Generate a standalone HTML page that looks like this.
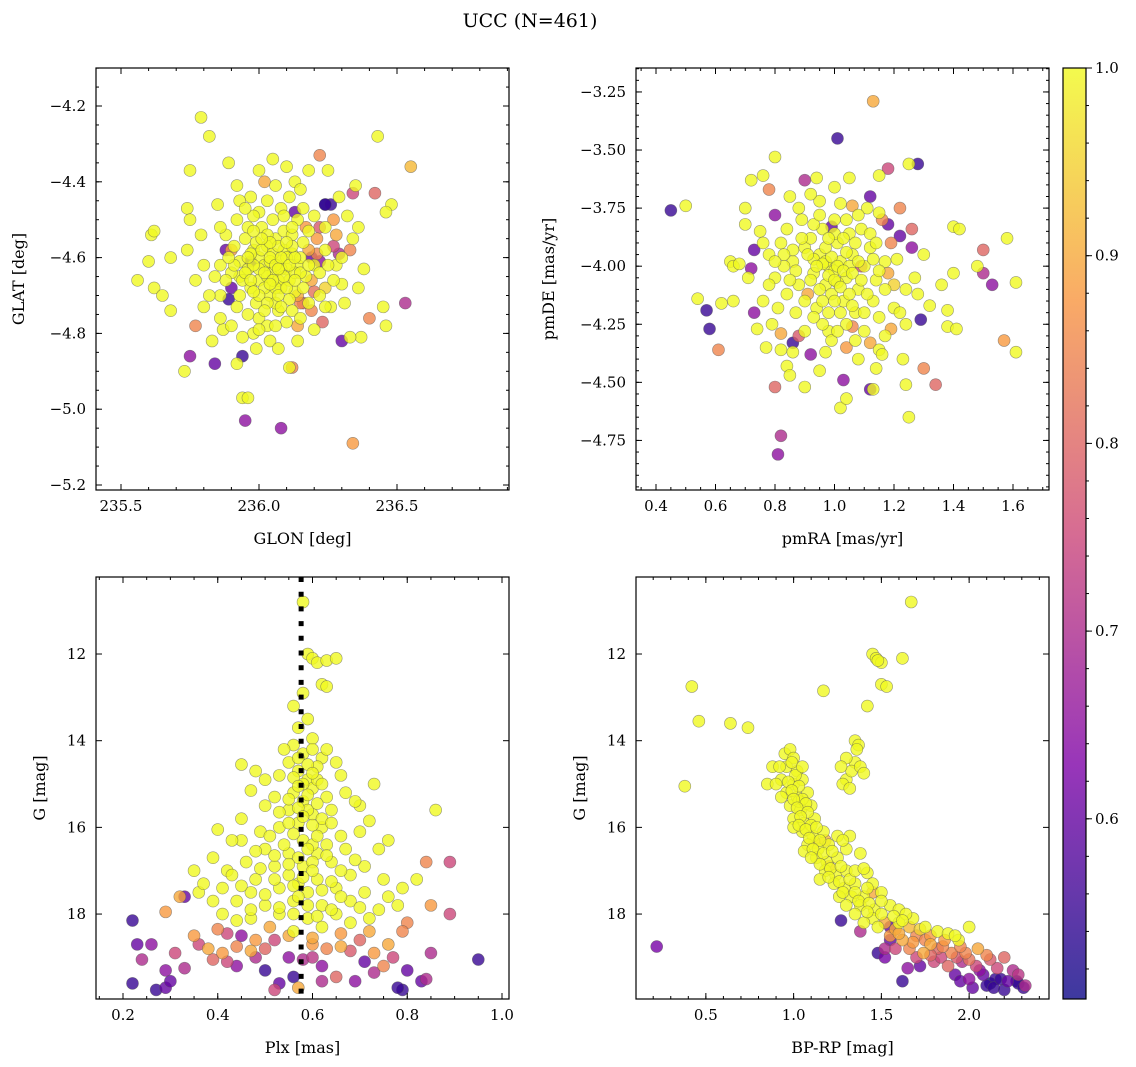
<!DOCTYPE html>
<html><head><meta charset="utf-8"><style>
body{margin:0;background:#fff;}
svg{display:block;font-family:"DejaVu Serif","Liberation Serif",serif;}
</style></head><body>
<svg id="fig" width="1136" height="1067" viewBox="0 0 1136 1067" xmlns="http://www.w3.org/2000/svg">
<text x="530" y="27" font-size="19" text-anchor="middle">UCC (N=461)</text>
</svg>
<script>
// ---------- data ----------
const p1Points = [
[235.79,-4.23,1],[235.82,-4.28,1],[235.89,-4.35,1],[235.75,-4.37,1],[235.56,-4.66,1],[235.61,-4.54,1],[235.62,-4.53,1],[235.6,-4.61,1],[235.62,-4.68,1],[235.65,-4.70,1],[235.68,-4.74,1],[235.68,-4.60,1],[235.74,-4.47,1],[235.75,-4.50,1],[235.74,-4.58,1],[235.73,-4.90,1],[235.77,-4.78,0.85],[235.75,-4.86,0.65],[235.84,-4.88,0.6],[235.88,-4.58,0.6],[235.89,-4.71,0.55],[235.92,-4.88,1],[235.94,-4.86,0.55],[235.94,-4.97,1],[235.96,-4.97,1],[235.95,-5.03,0.65],[236.08,-5.05,0.65],[236.34,-5.09,0.88],[236.12,-4.89,0.85],[236.11,-4.89,1],[236.55,-4.36,0.92],[236.53,-4.72,0.7],[236.48,-4.46,1],[236.43,-4.28,1],[236.42,-4.43,0.8],[236.46,-4.48,1],[236.46,-4.78,1],[236.45,-4.73,1],[236.4,-4.76,0.85],[236.38,-4.63,1],[236.37,-4.81,1],[236.3,-4.82,0.6],[236.33,-4.81,1],[236.35,-4.41,1],[236.34,-4.43,0.75],[236.22,-4.33,0.85],[236.26,-4.46,0.55],[236.27,-4.57,0.75],[236.22,-4.52,0.78],[236.18,-4.58,0.9],[236.2,-4.69,0.82],[236.19,-4.60,0.6],[236.15,-4.72,0.85],[236.25,-4.37,1],[236.18,-4.37,1],[236.13,-4.40,1],[236.02,-4.40,0.9],[236.05,-4.34,1],[236.1,-4.36,1],[236.0,-4.37,1],[235.85,-4.46,1],[235.86,-4.62,1],[235.8,-4.62,1],[235.8,-4.73,1],[235.83,-4.82,1],[235.87,-4.79,1],[235.9,-4.68,0.6],[235.93,-4.65,1],[236.28,-4.62,1],[236.3,-4.67,1],[236.34,-4.55,1],[236.32,-4.49,1],[236.26,-4.73,1],[236.23,-4.77,0.8],[236.14,-4.78,0.9],[236.0,-4.76,1],[235.98,-4.80,1],[236.04,-4.82,1],[236.07,-4.74,1],[235.96,-4.52,1],[235.97,-4.44,1],[236.08,-4.47,1],
[235.95,-4.55,1],[235.98,-4.58,1],[236.0,-4.6,1],[236.02,-4.62,1],[236.05,-4.64,1],[236.07,-4.61,1],[236.1,-4.63,1],[236.12,-4.59,1],[236.03,-4.57,1],[236.06,-4.55,1],[236.09,-4.53,1],[236.0,-4.66,1],[235.97,-4.68,1],[236.04,-4.7,1],[236.08,-4.68,1],[236.11,-4.66,1],[236.14,-4.62,1],[236.16,-4.56,1],[235.93,-4.61,1],[235.91,-4.57,1],[236.01,-4.52,1],[236.13,-4.69,1],[236.06,-4.72,1],[235.99,-4.72,1],[236.17,-4.65,1],[236.03,-4.65,1],[236.05,-4.59,1],[235.96,-4.63,1],[236.09,-4.58,1],[236.12,-4.54,1],[236.02,-4.68,1],[236.07,-4.66,1],[236.15,-4.6,1],[235.94,-4.66,1],[236.0,-4.63,1],[236.04,-4.61,1],[236.08,-4.63,1],[236.1,-4.6,1],[235.98,-4.62,1],[236.06,-4.68,1],[236.13,-4.64,1],[236.2,-4.62,1],[235.9,-4.64,1],[236.03,-4.54,1],[235.97,-4.59,1],[236.11,-4.71,1],[236.19,-4.66,0.9],[236.14,-4.5,1],[235.92,-4.5,1],[236.0,-4.48,1],[236.17,-4.52,0.88],[236.24,-4.58,1],[236.22,-4.64,1],[235.88,-4.66,1],[235.86,-4.7,1],[236.28,-4.54,0.9],[236.24,-4.68,0.95],[236.3,-4.6,1],[236.18,-4.72,1],[235.92,-4.73,1],[236.1,-4.77,1],[236.03,-4.78,1],[236.16,-4.47,1],[235.93,-4.45,1],[236.24,-4.46,0.55],[236.36,-4.68,1]
];
const p1Core = [
[235.96,-4.6,1],[235.99,-4.56,1],[236.01,-4.58,1],[236.04,-4.6,1],[236.06,-4.62,1],[236.08,-4.6,1],[236.11,-4.62,1],[236.13,-4.6,1],[236.02,-4.64,1],[236.05,-4.66,1],[236.09,-4.65,1],[236.0,-4.7,1],[236.03,-4.72,1],[236.07,-4.7,1],[236.1,-4.68,1],[235.95,-4.64,1],[235.97,-4.66,1],[236.12,-4.57,1],[236.07,-4.57,1],[236.04,-4.56,1],[236.01,-4.55,1],[235.98,-4.53,1],[236.15,-4.64,1],[236.16,-4.68,1],[236.14,-4.7,0.9],[235.93,-4.7,1],[235.91,-4.62,1],[235.89,-4.6,1],[236.18,-4.62,1],[236.21,-4.59,0.85],[236.05,-4.5,1],[236.09,-4.49,1],[236.12,-4.52,1],[235.98,-4.49,1],[236.08,-4.73,1],[236.12,-4.74,1],[235.96,-4.75,1],[236.0,-4.79,1],[236.06,-4.78,1],[236.15,-4.76,1],[236.19,-4.74,0.85],[236.22,-4.7,1],[236.25,-4.62,1],[236.27,-4.66,1],[235.88,-4.54,1],[235.84,-4.65,1],[235.82,-4.7,1],[235.86,-4.76,1],[235.9,-4.78,1],[235.94,-4.81,1],[236.18,-4.53,1],[236.21,-4.55,0.88],[236.2,-4.49,1],[235.95,-4.47,1],[236.03,-4.45,1],[236.11,-4.44,1],[236.06,-4.41,1],[236.15,-4.42,1],[235.92,-4.41,1],[236.24,-4.52,1],[236.27,-4.5,0.88],[236.24,-4.73,1],[236.2,-4.79,1],[235.99,-4.84,1],[236.07,-4.84,1],[236.14,-4.82,1],[235.79,-4.54,1],[235.77,-4.66,1],[236.31,-4.72,1],[236.33,-4.58,0.85],[236.29,-4.44,1],[236.36,-4.52,1],[235.86,-4.52,1],[236.16,-4.72,0.8],[236.02,-4.74,1],[235.98,-4.69,1],[236.1,-4.56,1],[236.13,-4.66,1],[236.04,-4.67,1],[236.07,-4.63,1],[235.97,-4.61,0.55],[236.13,-4.48,0.6],[236.22,-4.61,0.65],[236.29,-4.59,0.7],[235.9,-4.58,0.88],[236.24,-4.46,0.5]
];
const p2Points = [
[1.13,-3.29,0.9],[1.01,-3.45,0.55],[0.45,-3.76,0.55],[0.5,-3.74,1],[0.54,-4.14,1],[0.57,-4.19,0.55],[0.58,-4.27,0.55],[0.61,-4.36,0.85],[0.62,-4.16,1],[0.66,-4.15,1],[0.65,-3.98,1],[0.66,-4.0,1],[0.7,-3.75,1],[0.72,-3.63,1],[0.72,-4.01,0.65],[0.73,-3.93,0.6],[0.73,-4.2,0.65],[0.76,-3.61,1],[0.78,-3.67,0.85],[0.8,-3.53,1],[0.8,-3.78,0.65],[0.8,-4.52,0.8],[0.82,-4.73,0.7],[0.81,-4.81,0.65],[0.84,-4.43,1],[0.85,-4.47,1],[0.82,-4.36,1],[0.86,-4.33,0.55],[0.88,-4.30,0.78],[0.9,-3.63,0.7],[0.9,-4.52,1],[0.92,-4.38,0.65],[0.95,-4.45,1],[0.98,-4.28,1],[1.02,-4.61,1],[1.03,-4.49,0.65],[1.04,-4.57,1],[1.04,-4.35,0.88],[1.12,-4.53,0.6],[1.13,-4.53,1],[1.12,-3.7,0.6],[1.15,-3.61,1],[1.18,-3.58,0.75],[1.22,-3.87,0.6],[1.25,-3.56,1],[1.28,-3.56,0.55],[1.26,-3.84,0.8],[1.29,-4.23,0.55],[1.3,-4.44,0.85],[1.25,-4.65,1],[1.24,-4.51,1],[1.24,-4.25,1],[1.23,-4.40,1],[1.28,-4.12,1],[1.34,-4.51,0.8],[1.36,-4.08,1],[1.38,-4.19,1],[1.38,-4.26,1],[1.4,-3.83,1],[1.42,-3.84,1],[1.41,-4.27,1],[1.4,-4.03,1],[1.48,-4.0,1],[1.5,-3.93,0.8],[1.5,-4.03,0.7],[1.53,-4.08,0.65],[1.58,-3.88,1],[1.57,-4.32,0.88],[1.61,-4.07,1],[1.61,-4.37,1],[1.15,-4.36,1],[1.17,-4.3,1],[1.16,-4.38,1],[1.2,-4.18,1],[1.18,-3.82,0.6],[1.16,-3.8,0.85],
[0.95,-3.95,1],[0.98,-4.0,1],[1.0,-4.02,1],[1.02,-3.98,1],[1.04,-4.05,1],[0.97,-4.08,1],[1.06,-3.95,1],[0.93,-4.03,1],[1.01,-3.9,1],[0.99,-4.12,1],[1.08,-4.1,1],[0.9,-3.92,1],[1.05,-3.86,1],[0.96,-3.84,1],[1.1,-4.0,1],[0.88,-4.08,1],[1.03,-4.15,1],[0.94,-4.18,1],[1.12,-3.92,1],[0.86,-3.98,1],[1.0,-3.8,1],[1.07,-4.2,1],[0.92,-3.88,1],[1.14,-4.06,1],[0.84,-4.12,1],[0.97,-3.98,1],[1.01,-4.07,1],[1.05,-4.0,1],[0.93,-3.97,1],[1.09,-3.84,1],[0.89,-3.8,1],[1.13,-4.15,1],[0.82,-3.9,1],[0.8,-4.05,1],[1.17,-3.98,1],[0.96,-4.25,1],[1.04,-4.25,1],[0.87,-4.2,1],[1.2,-4.08,0.95],[0.78,-3.95,1],[1.11,-3.75,1],[0.95,-3.72,1],[0.85,-3.7,1],[1.0,-3.66,1],[1.06,-3.74,0.9],[0.76,-4.15,1],[0.79,-4.25,1],[1.22,-4.2,1],[0.91,-4.12,0.9],[1.07,-4.32,1],[0.99,-4.32,1],[1.19,-3.9,0.85],[0.83,-4.0,1],[0.75,-3.85,1],[1.15,-4.22,1],[0.68,-3.99,1],[0.74,-4.27,1],[1.27,-4.05,1]
];
const p2Core = [
[0.96,-3.99,1],[0.99,-3.96,1],[1.01,-4.0,1],[1.03,-4.02,1],[0.98,-4.04,1],[1.0,-4.06,1],[1.02,-4.09,1],[0.95,-4.1,1],[0.97,-3.92,1],[1.04,-3.94,1],[1.06,-4.03,1],[1.08,-3.98,1],[0.94,-4.0,1],[0.92,-4.06,1],[1.05,-4.12,1],[1.09,-4.06,1],[0.91,-3.95,1],[1.0,-3.86,1],[1.03,-3.88,1],[0.98,-3.88,1],[1.07,-3.9,1],[0.9,-4.15,1],[1.11,-4.12,1],[1.0,-4.15,1],[0.96,-4.15,1],[1.06,-4.17,1],[0.89,-3.88,1],[1.13,-3.97,1],[0.87,-4.02,1],[1.15,-4.02,1],[1.02,-4.2,1],[0.98,-4.2,1],[0.93,-4.22,1],[1.1,-4.2,1],[1.12,-3.86,1],[0.93,-3.82,1],[1.04,-3.8,1],[0.86,-3.93,1],[0.85,-4.06,1],[1.17,-4.1,1],[1.18,-4.03,0.9],[0.83,-3.95,1],[0.8,-3.98,1],[1.14,-3.9,1],[1.01,-4.28,1],[1.1,-4.28,1],[0.9,-4.28,1],[0.95,-3.78,1],[1.08,-3.78,1],[0.88,-3.75,1],[1.02,-3.73,1],[0.81,-4.18,1],[0.78,-4.08,1],[1.21,-3.97,1],[1.24,-4.1,1],[0.97,-4.37,1],[1.08,-4.4,1],[1.12,-4.33,0.9],[0.92,-3.69,1],[1.15,-3.77,1],[0.84,-3.84,1],[0.76,-3.9,1],[0.71,-4.05,1],[0.77,-4.35,1],[1.3,-3.95,1],[1.32,-4.17,1],[1.19,-4.27,0.9],[0.94,-3.62,1],[1.05,-3.62,1],[1.09,-4.0,0.75],[0.99,-3.83,0.6],[1.06,-4.26,0.85],[0.82,-4.29,0.9],[1.22,-3.75,0.85],[0.86,-4.37,1],[0.7,-3.82,1],[1.26,-3.92,0.65],[1.14,-4.44,1]
];
const p3Points = [
[0.58,10.8,1],[0.59,12.0,1],[0.6,12.1,1],[0.61,12.2,1],[0.63,12.15,1],[0.65,12.1,1],[0.62,12.7,1],[0.63,12.75,1],[0.58,12.9,1],[0.56,13.2,1],[0.57,13.7,1],[0.59,13.5,1],[0.6,13.95,1],[0.56,14.1,1],[0.58,14.3,1],[0.6,14.2,1],[0.55,14.5,1],[0.62,14.4,1],[0.57,14.7,1],[0.59,14.9,1],[0.61,14.6,1],[0.65,14.5,1],[0.45,14.55,1],[0.48,14.7,1],[0.53,14.8,1],[0.6,15.1,1],[0.56,15.2,1],[0.58,15.4,1],[0.52,15.3,1],[0.63,15.3,1],[0.67,15.2,1],[0.5,15.5,1],[0.55,15.6,1],[0.6,15.7,1],[0.64,15.6,1],[0.7,15.5,1],[0.73,15.0,1],[0.86,15.6,1],[0.57,15.9,1],[0.53,16.0,1],[0.49,16.1,1],[0.62,16.0,1],[0.66,16.2,1],[0.7,16.1,1],[0.45,16.3,1],[0.58,16.3,1],[0.43,16.3,1],[0.39,16.7,1],[0.5,16.5,1],[0.55,16.6,1],[0.61,16.6,1],[0.67,16.5,1],[0.74,16.5,1],[0.46,16.8,1],[0.52,16.9,1],[0.58,16.9,1],[0.64,16.8,1],[0.71,16.9,1],[0.84,16.8,0.85],[0.89,16.8,0.75],[0.42,17.0,1],[0.48,17.2,1],[0.55,17.1,1],[0.61,17.2,1],[0.68,17.1,1],[0.75,17.2,1],[0.32,17.6,0.9],[0.36,17.5,1],[0.41,17.4,1],[0.47,17.5,1],[0.53,17.4,1],[0.59,17.5,1],[0.65,17.4,1],[0.71,17.5,1],[0.79,17.4,1],[0.44,17.7,1],[0.5,17.8,1],[0.56,17.7,1],[0.62,17.8,1],[0.68,17.7,1],[0.76,17.6,1],[0.85,17.8,0.88],[0.29,17.95,0.88],[0.33,17.6,0.6],[0.41,18.0,1],[0.47,18.1,1],[0.53,18.0,1],[0.59,18.1,1],[0.65,18.0,1],[0.72,18.1,1],[0.8,18.2,0.85],[0.89,18.0,0.75],[0.22,18.15,0.55],[0.35,18.5,0.88],[0.38,18.8,0.9],[0.41,18.9,0.88],[0.44,18.75,0.85],[0.47,18.85,0.9],[0.5,18.8,0.8],[0.52,18.6,0.75],[0.55,18.5,0.9],[0.6,18.7,0.88],[0.63,18.8,0.85],[0.66,18.75,0.9],[0.7,18.6,0.8],[0.73,18.9,0.88],[0.76,18.7,0.9],[0.79,18.4,0.85],[0.23,18.7,0.6],[0.26,18.7,0.65],[0.24,19.05,0.7],[0.29,19.3,0.65],[0.33,19.25,0.7],[0.39,19.05,0.8],[0.42,19.1,0.75],[0.45,18.5,0.65],[0.5,19.3,0.55],[0.53,19.6,0.6],[0.56,19.45,0.55],[0.58,19.05,0.7],[0.6,19.0,0.72],[0.62,19.2,0.65],[0.65,19.45,0.8],[0.68,18.85,0.78],[0.71,19.1,0.6],[0.73,19.35,0.7],[0.75,19.2,0.85],[0.77,19.0,0.75],[0.79,19.75,0.55],[0.8,19.3,0.6],[0.83,19.55,0.6],[0.84,19.5,0.7],[0.78,19.7,0.55],[0.95,19.05,0.55],[0.22,19.6,0.55],[0.27,19.75,0.55],[0.29,19.7,0.6],[0.3,19.55,0.6],[0.52,19.75,0.75],[0.57,19.7,0.9],[0.42,18.45,0.75],[0.48,19.0,0.7],[0.55,19.0,0.65],[0.58,15.0,1],[0.6,16.4,1],[0.57,17.3,1],[0.62,18.3,1],[0.56,18.4,1],[0.59,15.6,1],[0.61,14.9,1]
];
const p3Core = [
[0.57,14.4,1],[0.59,14.55,1],[0.56,14.85,1],[0.6,14.75,1],[0.62,15.0,1],[0.57,15.05,1],[0.55,15.35,1],[0.59,15.25,1],[0.61,15.45,1],[0.57,15.55,1],[0.53,15.65,1],[0.62,15.8,1],[0.58,15.75,1],[0.55,15.9,1],[0.6,15.95,1],[0.64,15.9,1],[0.51,16.2,1],[0.56,16.15,1],[0.61,16.2,1],[0.63,16.4,1],[0.54,16.4,1],[0.59,16.5,1],[0.52,16.65,1],[0.57,16.7,1],[0.63,16.65,1],[0.6,16.8,1],[0.55,16.85,1],[0.49,16.95,1],[0.66,17.0,1],[0.6,17.0,1],[0.58,17.15,1],[0.52,17.2,1],[0.64,17.25,1],[0.45,17.35,1],[0.56,17.35,1],[0.62,17.45,1],[0.5,17.55,1],[0.57,17.6,1],[0.66,17.6,1],[0.59,17.8,1],[0.53,17.85,1],[0.47,17.9,1],[0.64,17.9,1],[0.7,17.85,1],[0.56,18.0,1],[0.61,18.05,1],[0.44,18.15,1],[0.68,18.2,1],[0.74,17.9,1],[0.39,17.7,1],[0.37,17.3,1],[0.43,17.1,1],[0.78,17.8,1],[0.54,14.2,1],[0.63,14.2,1],[0.5,14.9,1],[0.66,14.8,1],[0.47,15.15,1],[0.69,15.4,1],[0.45,15.8,1],[0.72,15.85,1],[0.4,16.05,1],[0.76,16.3,1],[0.35,17.0,1],[0.82,17.2,1],[0.48,16.55,1],[0.69,16.75,1],[0.6,18.55,0.9],[0.51,18.3,0.9],[0.66,18.45,0.88],[0.72,18.4,0.9],[0.4,18.35,0.85],[0.36,18.7,0.75],[0.44,19.2,0.65],[0.62,19.55,0.7],[0.69,19.55,0.65],[0.48,18.6,0.88],[0.85,18.9,0.7],[0.31,18.9,0.75]
];
const p4Points = [
[1.67,10.8,1],[1.45,12.0,1],[1.47,12.1,1],[1.5,12.2,1],[1.62,12.1,1],[1.48,12.15,1],[1.5,12.7,1],[1.53,12.75,1],[1.17,12.85,1],[0.42,12.75,1],[0.46,13.55,1],[0.64,13.6,1],[0.74,13.7,1],[0.38,15.05,1],[0.22,18.75,0.62],[1.42,13.2,1],[1.35,14.0,1],[1.37,14.1,1],[1.35,14.5,1],[1.3,14.4,1],[1.3,14.9,1],[1.33,14.7,1],[1.38,14.6,1],[1.27,14.6,1],[1.28,15.0,1],[1.32,15.1,1],[0.95,14.3,1],[0.98,14.2,1],[1.0,14.4,1],[0.96,14.6,1],[1.02,14.7,1],[0.88,14.6,1],[0.85,15.0,1],[0.93,14.9,1],[1.0,15.0,1],[1.05,14.9,1],[0.96,15.2,1],[1.02,15.3,1],[1.08,15.2,1],[0.98,15.5,1],[1.04,15.6,1],[1.1,15.5,1],[1.0,15.8,1],[1.06,15.9,1],[1.12,15.8,1],[1.05,16.1,1],[1.11,16.2,1],[1.17,16.1,1],[1.08,16.4,1],[1.14,16.5,1],[1.2,16.4,1],[1.13,16.7,1],[1.19,16.8,1],[1.25,16.7,1],[1.3,16.5,1],[1.18,17.0,1],[1.24,17.1,1],[1.3,17.0,1],[1.42,17.05,1],[1.45,17.3,1],[1.23,17.3,1],[1.29,17.4,1],[1.35,17.3,1],[1.4,17.6,1],[1.5,17.5,1],[1.33,17.6,1],[1.38,17.8,1],[1.46,17.9,1],[1.55,17.8,1],[1.6,17.9,1],[1.45,18.1,1],[1.52,18.2,0.9],[1.6,18.2,1],[1.68,18.1,1],[1.75,18.3,1],[1.82,18.4,1],[2.0,18.3,1],[1.55,18.5,0.88],[1.62,18.6,0.9],[1.7,18.5,0.85],[1.78,18.7,0.9],[1.86,18.6,0.88],[1.94,18.6,1],[1.66,18.8,0.85],[1.74,18.9,0.9],[1.82,18.8,0.8],[1.9,18.9,0.85],[1.98,18.9,0.85],[2.05,18.8,0.9],[1.8,19.1,0.75],[1.88,19.2,0.8],[1.96,19.1,0.7],[2.04,19.2,0.75],[2.12,19.05,0.78],[2.2,19.0,0.8],[1.92,19.4,0.6],[2.0,19.5,0.65],[2.08,19.4,0.6],[2.15,19.5,0.55],[2.22,19.55,0.6],[2.28,19.6,0.55],[2.32,19.65,0.7],[2.25,19.3,0.7],[2.1,19.65,0.55],[2.14,19.7,0.55],[2.18,19.5,0.55],[1.62,19.55,0.55],[1.65,19.25,0.65],[1.72,19.2,0.6],[1.52,18.8,0.7],[1.55,18.6,0.6],[1.27,18.15,0.55],[1.38,18.4,0.7],[1.48,18.9,0.55],[2.02,19.7,0.6],[1.7,19.0,0.75],[1.12,16.35,0.92],[1.2,16.9,0.9],[1.0,16.0,1],[1.03,15.4,1],[1.06,16.55,1],[1.15,17.2,1],[1.26,17.6,1],[1.35,18.0,1],[1.4,18.2,1],[1.3,17.8,1]
];
const p4Core = [
[0.99,14.5,1],[1.01,14.8,1],[0.97,14.95,1],[1.03,15.05,1],[0.99,15.15,1],[1.05,15.35,1],[1.0,15.35,1],[1.07,15.45,1],[1.02,15.55,1],[1.08,15.65,1],[1.04,15.75,1],[1.1,15.95,1],[1.03,15.95,1],[1.07,16.05,1],[1.13,16.0,1],[1.09,16.25,1],[1.15,16.3,1],[1.11,16.5,1],[1.17,16.6,1],[1.22,16.55,1],[1.15,16.85,1],[1.21,16.95,1],[1.27,16.9,1],[1.2,17.15,1],[1.26,17.25,1],[1.32,17.2,1],[1.28,17.5,1],[1.35,17.5,1],[1.42,17.4,1],[1.37,17.7,1],[1.43,17.75,1],[1.5,17.7,1],[1.42,17.95,1],[1.5,18.0,1],[1.57,18.05,1],[1.64,18.0,1],[1.48,18.3,1],[1.58,18.35,0.9],[1.66,18.3,0.92],[1.72,18.35,0.95],[1.78,18.5,0.88],[1.88,18.45,1],[1.92,18.5,1],[1.6,18.45,0.9],[1.68,18.65,0.88],[1.75,18.6,0.85],[1.85,18.75,0.85],[1.95,18.75,0.85],[2.1,18.95,0.85],[1.78,18.95,0.8],[1.84,19.0,0.75],[1.93,19.0,0.78],[2.0,19.05,0.82],[2.16,19.25,0.75],[2.28,19.4,0.72],[2.06,19.3,0.65],[1.95,19.55,0.6],[2.12,19.6,0.5],[2.2,19.75,0.55],[2.31,19.7,0.55],[2.27,19.55,0.52],[1.52,19.0,0.62],[1.58,18.8,0.75],[1.35,17.0,1],[1.25,16.2,1],[1.18,16.3,0.92],[1.32,16.2,1],[1.38,16.6,1],[1.28,16.3,1],[1.1,16.7,1],[0.93,15.3,1],[0.9,15.0,1],[0.92,14.6,1],[1.05,14.6,1],[1.36,14.2,1],[1.4,14.75,1],[1.4,16.95,1],[1.45,17.5,0.9],[1.55,18.3,0.6],[1.62,18.15,1]
];
const cbTicks = [0.6,0.7,0.8,0.9,1.0];
const cbMin = 0.504, cbMax = 1.0;

// ---------- helpers ----------
const NS="http://www.w3.org/2000/svg";
const svg=document.getElementById('fig');
function mk(tag,attrs,parent){const e=document.createElementNS(NS,tag);for(const k in attrs)e.setAttribute(k,attrs[k]);(parent||svg).appendChild(e);return e;}
const stops=[[0,[13,8,135]],[0.25,[126,3,168]],[0.5,[204,71,120]],[0.75,[248,149,64]],[1,[240,249,33]]];
function plasma(t){t=Math.max(0,Math.min(1,t));for(let i=1;i<stops.length;i++){if(t<=stops[i][0]){const a=stops[i-1],b=stops[i];const f=(t-a[0])/(b[0]-a[0]);const c=a[1].map((v,j)=>Math.round(v+(b[1][j]-v)*f));return `rgb(${c})`;}}return 'rgb(240,249,33)';}
function fmt(v,d){return (v<0?'\u2212':'')+Math.abs(v).toFixed(d);}

function panel(cfg){
  const {name,x0,x1,y0,y1,xmin,xmax,ymin,ymax,pts}=cfg;
  const g=mk('g',{});
  
  
  const sx=v=>x0+(v-xmin)/(xmax-xmin)*(x1-x0);
  const sy=v=>y0+(v-ymax)/(ymin-ymax)*(y1-y0);
  const clipId='c'+name;
  const cp=mk('clipPath',{id:clipId},g);mk('rect',{x:x0,y:y0,width:x1-x0,height:y1-y0},cp);
  const pg=mk('g',{'clip-path':`url(#${clipId})`},g);
  
  
  const sorted=pts.slice().sort((a,b)=>a[2]-b[2]);
  sorted.forEach(p=>{
    const c=mk('circle',{cx:sx(p[0]),cy:sy(p[1]),r:6,fill:plasma((p[2]-cbMin)/(cbMax-cbMin)),'fill-opacity':0.8,stroke:'#555','stroke-opacity':0.6,'stroke-width':0.6},pg);
    
    
  });
  if(cfg.vline!==undefined){
    const l=mk('line',{x1:sx(cfg.vline),x2:sx(cfg.vline),y1:y0,y2:y1,stroke:'#000','stroke-width':5,'stroke-dasharray':'5 9.7'},pg);
    
    
  }
  mk('rect',{x:x0,y:y0,width:x1-x0,height:y1-y0,fill:'none',stroke:'#000','stroke-width':1.2},g);
  const eps=1e-9;
  for(let v=Math.ceil(xmin/cfg.xminor-eps)*cfg.xminor;v<=xmax+eps;v+=cfg.xminor){const X=sx(v);mk('line',{x1:X,x2:X,y1:y1,y2:y1-3,stroke:'#000'},g);mk('line',{x1:X,x2:X,y1:y0,y2:y0+3,stroke:'#000'},g);}
  for(let v=Math.ceil(ymin/cfg.yminor-eps)*cfg.yminor;v<=ymax+eps;v+=cfg.yminor){const Y=sy(v);mk('line',{x1:x0,x2:x0+3,y1:Y,y2:Y,stroke:'#000'},g);mk('line',{x1:x1,x2:x1-3,y1:Y,y2:Y,stroke:'#000'},g);}
  cfg.xt.forEach(v=>{const X=sx(v);mk('line',{x1:X,x2:X,y1:y1,y2:y1-6,stroke:'#000'},g);mk('line',{x1:X,x2:X,y1:y0,y2:y0+6,stroke:'#000'},g);
    const t=mk('text',{x:X,y:y1+21,'font-size':15,'text-anchor':'middle'},g);t.textContent=fmt(v,cfg.xd);});
  cfg.yt.forEach(v=>{const Y=sy(v);mk('line',{x1:x0,x2:x0+6,y1:Y,y2:Y,stroke:'#000'},g);mk('line',{x1:x1,x2:x1-6,y1:Y,y2:Y,stroke:'#000'},g);
    const t=mk('text',{x:x0-10,y:Y+5,'font-size':15,'text-anchor':'end'},g);t.textContent=fmt(v,cfg.yd);});
  const xl=mk('text',{x:(x0+x1)/2,y:y1+54,'font-size':16,'text-anchor':'middle'},g);xl.textContent=cfg.xlabel;
  
  const yx=cfg.ylx,yy=(y0+y1)/2;
  const yl=mk('text',{x:yx,y:yy,'font-size':16,'text-anchor':'middle',transform:`rotate(-90 ${yx} ${yy})`},g);yl.textContent=cfg.ylabel;
  
}
panel({name:'glon-glat-panel',x0:96,x1:509,y0:68,y1:490,xmin:235.4094,xmax:236.9058,ymin:-5.2132,ymax:-4.0997,pts:p1Points.concat(p1Core),xt:[235.5,236.0,236.5],xd:1,xminor:0.1,yt:[-4.2,-4.4,-4.6,-4.8,-5.0,-5.2],yd:1,yminor:0.05,xlabel:'GLON [deg]',ylabel:'GLAT [deg]',ylx:24});
panel({name:'pm-panel',x0:636,x1:1049,y0:68,y1:490,xmin:0.3328,xmax:1.7210,ymin:-4.9634,ymax:-3.1469,pts:p2Points.concat(p2Core),xt:[0.4,0.6,0.8,1.0,1.2,1.4,1.6],xd:1,xminor:0.05,yt:[-3.25,-3.5,-3.75,-4.0,-4.25,-4.5,-4.75],yd:2,yminor:0.05,xlabel:'pmRA [mas/yr]',ylabel:'pmDE [mas/yr]',ylx:554});
panel({name:'plx-g-panel',x0:96,x1:509,y0:577,y1:999,xmin:0.143,xmax:1.0148,ymin:19.96,ymax:10.223,pts:p3Points.concat(p3Core),xt:[0.2,0.4,0.6,0.8,1.0],xd:1,xminor:0.05,yt:[12,14,16,18],yd:0,yminor:0.5,xlabel:'Plx [mas]',ylabel:'G [mag]',ylx:45,vline:0.576});
panel({name:'cmd-panel',x0:636,x1:1049,y0:577,y1:999,xmin:0.102,xmax:2.455,ymin:19.96,ymax:10.223,pts:p4Points.concat(p4Core),xt:[0.5,1.0,1.5,2.0],xd:1,xminor:0.1,yt:[12,14,16,18],yd:0,yminor:0.5,xlabel:'BP-RP [mag]',ylabel:'G [mag]',ylx:585});

// colorbar
(function(){
  const x0=1063,x1=1086,y0=68,y1=999;
  const g=mk('g',{});
  
  
  const defs=mk('defs',{},g);
  const lg=mk('linearGradient',{id:'cbg',x1:0,y1:1,x2:0,y2:0},defs);
  for(let i=0;i<=20;i++){mk('stop',{offset:i/20,'stop-color':plasma(i/20),'stop-opacity':0.8},lg);}
  mk('rect',{x:x0,y:y0,width:x1-x0,height:y1-y0,fill:'url(#cbg)',stroke:'#000','stroke-width':1.2},g);
  const sy=v=>y1-(v-cbMin)/(cbMax-cbMin)*(y1-y0);
  for(let v=0.52;v<=1.0001;v+=0.02){const Y=sy(v);mk('line',{x1:x1,x2:x1+3,y1:Y,y2:Y,stroke:'#000'},g);}
  cbTicks.forEach(v=>{const Y=sy(v);mk('line',{x1:x1,x2:x1+6,y1:Y,y2:Y,stroke:'#000'},g);
    const t=mk('text',{x:x1+9,y:Y+5,'font-size':15},g);t.textContent=v.toFixed(1);
    });
})();
</script>
</body></html>
